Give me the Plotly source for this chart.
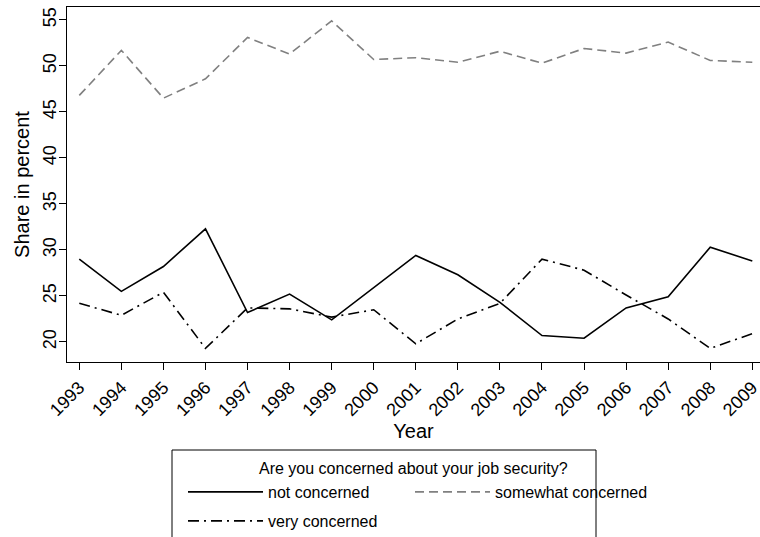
import plotly.graph_objects as go

years = list(range(1993, 2010))
not_concerned = [29.0, 25.5, 28.2, 32.3, 23.2, 25.2, 22.4, 25.9, 29.4, 27.3, 24.3, 20.7, 20.4, 23.7, 24.9, 30.3, 28.8]
somewhat_concerned = [46.8, 51.7, 46.5, 48.6, 53.1, 51.3, 54.9, 50.7, 50.9, 50.4, 51.6, 50.3, 51.9, 51.4, 52.6, 50.6, 50.4]
very_concerned = [24.2, 22.9, 25.4, 19.3, 23.7, 23.6, 22.7, 23.5, 19.8, 22.5, 24.2, 29.0, 27.8, 25.1, 22.5, 19.3, 20.9]
y_ticks = [20, 25, 30, 35, 40, 45, 50, 55]
legend_title = "Are you concerned about your job security?"

FONT = "Liberation Sans, Arial, Helvetica, sans-serif"

fig = go.Figure()
fig.add_trace(go.Scatter(x=years, y=not_concerned, mode="lines", name="not concerned",
                         line=dict(color="black", width=1.6), legend="legend"))
fig.add_trace(go.Scatter(x=years, y=somewhat_concerned, mode="lines", name="somewhat concerned",
                         line=dict(color="#808080", width=1.6, dash="9px,5px"), legend="legend3"))
fig.add_trace(go.Scatter(x=years, y=very_concerned, mode="lines", name="very concerned",
                         line=dict(color="black", width=1.6, dash="11px,5px,2px,5px"), legend="legend2"))

W, H = 760, 537
L, R, T, B = 67, 0, 7, 175
pw, ph = W - L - R, H - T - B
plot_bottom = T + ph

def px_x(x):
    return (x - L) / pw

def px_y(y):
    return (plot_bottom - y) / ph

legend_common = dict(orientation="h", xanchor="left", yanchor="top",
                     bgcolor="rgba(0,0,0,0)", borderwidth=0,
                     font=dict(family=FONT, size=16, color="black"),
                     itemwidth=75, traceorder="normal")

fig.update_layout(
    width=W, height=H,
    margin=dict(l=L, r=R, t=T, b=B, autoexpand=False),
    paper_bgcolor="white", plot_bgcolor="white",
    font=dict(family=FONT, color="black"),
    showlegend=True, hovermode=False,
    legend=dict(x=px_x(183), y=px_y(475), **legend_common),
    legend3=dict(x=px_x(410), y=px_y(475), **legend_common),
    legend2=dict(x=px_x(183), y=px_y(504), **legend_common),
    xaxis=dict(range=[1992.708, 2009.183], tickmode="array", tickvals=years,
               ticktext=[str(y) for y in years], tickangle=-45, automargin=False,
               ticklabeloverflow="allow",
               ticks="outside", ticklen=7, tickwidth=1, tickcolor="black",
               showline=True, linecolor="black", linewidth=1, mirror=True,
               showgrid=False, zeroline=False,
               tickfont=dict(family=FONT, size=18, color="black"),
               title=dict(text="Year", font=dict(family=FONT, size=20, color="black"), standoff=1)),
    yaxis=dict(range=[17.82, 56.41], tickmode="array", tickvals=y_ticks,
               ticktext=[str(v) for v in y_ticks], tickangle=-90, automargin=True,
               ticks="outside", ticklen=7, tickwidth=1, tickcolor="black",
               ticklabelstandoff=-4,
               showline=True, linecolor="black", linewidth=1,
               showgrid=False, zeroline=False,
               tickfont=dict(family=FONT, size=18, color="black"),
               title=dict(text="Share in percent", font=dict(family=FONT, size=20, color="black"), standoff=4)),
)

fig.add_shape(type="rect", xref="paper", yref="paper",
              x0=px_x(172), x1=px_x(596), y0=px_y(450), y1=px_y(545),
              line=dict(color="black", width=1), fillcolor="rgba(0,0,0,0)", layer="above")

fig.add_annotation(text=legend_title, xref="paper", yref="paper",
                   x=px_x(414), y=px_y(468), xanchor="center", yanchor="middle",
                   showarrow=False, font=dict(family=FONT, size=16, color="black"))

fig.write_html("out.html", config={"displayModeBar": False, "staticPlot": True},
               post_script="document.body.style.margin='0';document.body.style.overflow='hidden';")
